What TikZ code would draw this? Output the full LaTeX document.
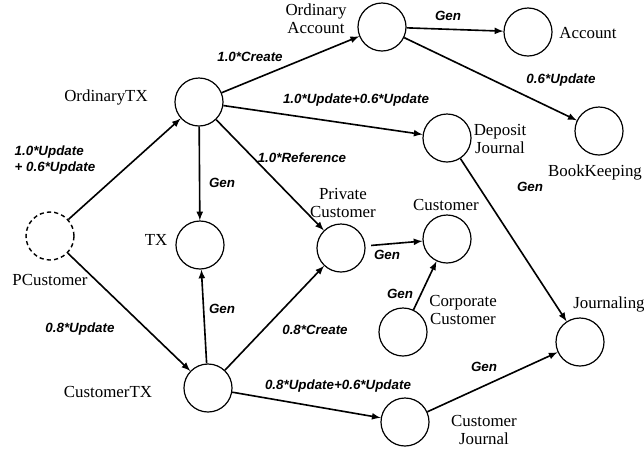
\documentclass[tikz,border=0pt]{standalone}
\usepackage{fontspec}
\setmainfont{Liberation Serif}
\setsansfont{Liberation Sans}
\usetikzlibrary{arrows}

\begin{document}
\begin{tikzpicture}[x=0.025cm,y=-0.025cm,
  obj/.style={draw,circle,line width=0.85pt,minimum size=1.2cm,inner sep=0pt},
  pobj/.style={obj,line width=1pt,dash pattern=on 3pt off 2.2pt},
  lbl/.style={font=\fontsize{12}{12.8}\selectfont,align=center,inner sep=0pt},
  wt/.style={font=\sffamily\bfseries\itshape\fontsize{9.5}{11.3}\selectfont,align=left,inner sep=0pt},
  rel/.style={-latex,line width=1.15pt}]

\useasboundingbox (0,0) rectangle (644,450);

\node[obj] (oacc) at (382,27) {};
\node[obj] (acc) at (528,32) {};
\node[obj] (otx) at (199,102) {};
\node[obj] (djr) at (447,138) {};
\node[obj] (bk) at (599,131) {};
\node[pobj] (pcu) at (50,236) {};
\node[obj] (tx) at (200,245) {};
\node[obj] (pcust) at (341,248) {};
\node[obj] (cust) at (447,239) {};
\node[obj] (ccust) at (403,332) {};
\node[obj] (jr) at (580,342) {};
\node[obj] (ctx) at (208,388) {};
\node[obj] (cjr) at (405,422) {};

\node[lbl] (oaccl) at (316,19) {Ordinary\\Account};
\node[lbl] (accl) at (588,33) {Account};
\node[lbl] (otxl) at (106,97) {OrdinaryTX};
\node[lbl] (djrl) at (500,139) {Deposit\\Journal};
\node[lbl] (bkl) at (595,172) {BookKeeping};
\node[lbl] (pcul) at (50,280) {PCustomer};
\node[lbl] (txl) at (156,240) {TX};
\node[lbl] (pcustl) at (343,203) {Private\\Customer};
\node[lbl] (custl) at (446,205) {Customer};
\node[lbl] (ccustl) at (463,310) {Corporate\\Customer};
\node[lbl] (jrl) at (609,304) {Journaling};
\node[lbl] (ctxl) at (108,392) {CustomerTX};
\node[lbl] (cjrl) at (484,430) {Customer\\Journal};

\draw[rel] (pcu) -- (otx);
\draw[rel] (pcu) -- (ctx);
\draw[rel] (otx) -- (oacc);
\draw[rel] (otx) -- (djr);
\draw[rel] (otx) -- (tx);
\draw[rel] (otx) -- (pcust);
\draw[rel] (oacc) -- (acc);
\draw[rel] (oacc) -- (bk);
\draw[rel] (djr) -- (jr);
\draw[rel,shorten <=4pt] (pcust) -- (cust);
\draw[rel] (ccust) -- (cust);
\draw[rel] (ctx) -- (tx);
\draw[rel] (ctx) -- (pcust);
\draw[rel] (ctx) -- (cjr);
\draw[rel] (cjr) -- (jr);

\node[wt] (w1) at (250,57) {1.0*Create};
\node[wt] (w2) at (356,100) {1.0*Update+0.6*Update};
\node[wt] (w3) at (561,80) {0.6*Update};
\node[wt] (w4) at (55,160) {1.0*Update\\+ 0.6*Update};
\node[wt] (w5) at (222,183) {Gen};
\node[wt] (w6) at (302,158) {1.0*Reference};
\node[wt] (w7) at (530,187) {Gen};
\node[wt] (w8) at (387,255) {Gen};
\node[wt] (w9) at (400,294) {Gen};
\node[wt] (w10) at (222,309) {Gen};
\node[wt] (w11) at (80,329) {0.8*Update};
\node[wt] (w12) at (315,330) {0.8*Create};
\node[wt] (w13) at (484,367) {Gen};
\node[wt] (w14) at (338,386) {0.8*Update+0.6*Update};
\node[wt] (w15) at (448,16) {Gen};
\end{tikzpicture}
\end{document}
